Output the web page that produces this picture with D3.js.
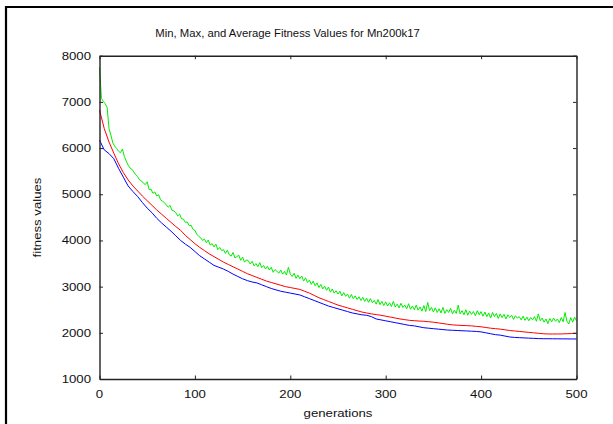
<!DOCTYPE html>
<html>
<head>
<meta charset="utf-8">
<script src="https://cdn.jsdelivr.net/npm/d3@7"></script>
<style>
  html, body { margin: 0; padding: 0; background: #fff; }
  svg { display: block; }
  text { font-family: "Liberation Sans", Arial, sans-serif; fill: #111; }
</style>
</head>
<body>
<div id="chart"></div>
<script>
// data
const titleText = "Min, Max, and Average Fitness Values for Mn200k17";
const xTicks = [0, 100, 200, 300, 400, 500];
const yTicks = [1000, 2000, 3000, 4000, 5000, 6000, 7000, 8000];

// average (red) and min (blue): one value every 5 generations, 0..500
const avgStep = 5;
const avgValues = [
  6824, 6420, 6130, 5890, 5660, 5470, 5310, 5180, 5070, 4960,
  4860, 4760, 4660, 4570, 4480, 4390, 4300, 4220, 4110, 4020,
  3930, 3850, 3780, 3710, 3650, 3590, 3530, 3480, 3430, 3380,
  3330, 3280, 3240, 3200, 3160, 3120, 3090, 3060, 3030, 3000,
  2980, 2960, 2940, 2900, 2860, 2810, 2760, 2720, 2680, 2640,
  2600, 2570, 2540, 2510, 2480, 2450, 2430, 2410, 2395, 2380,
  2360, 2340, 2320, 2300, 2285, 2270, 2262, 2255, 2250, 2240,
  2230, 2215, 2200, 2185, 2172, 2165, 2160, 2155, 2150, 2140,
  2130, 2115, 2100, 2090, 2080, 2065, 2050, 2040, 2030, 2020,
  2010, 2000, 1990, 1980, 1975, 1974, 1975, 1977, 1980, 1985,
  1990
];
const minValues = [
  6174, 5960, 5880, 5770, 5560, 5370, 5180, 5060, 4950, 4820,
  4700, 4600, 4480, 4380, 4290, 4200, 4100, 4000, 3920, 3850,
  3760, 3670, 3600, 3530, 3460, 3420, 3380, 3330, 3270, 3220,
  3170, 3130, 3100, 3080, 3040, 3000, 2960, 2930, 2900, 2880,
  2860, 2840, 2820, 2780, 2740, 2700, 2660, 2620, 2580, 2550,
  2520, 2490, 2460, 2430, 2410, 2390, 2380, 2350, 2300, 2280,
  2260, 2240, 2220, 2200, 2180, 2160, 2150, 2130, 2110, 2100,
  2090, 2080, 2070, 2060, 2055, 2050, 2045, 2040, 2035, 2030,
  2020, 2000, 1980, 1960, 1950, 1930, 1910, 1900, 1895, 1890,
  1885, 1880, 1875, 1872, 1872, 1871, 1870, 1869, 1868, 1867,
  1866
];
// max (green): one value every 2 generations, 0..500
const maxStep = 2;
const maxValues = [
  7750, 7080, 7010, 6960, 6880, 6420, 6280, 6110, 6040, 5990,
  5930, 5900, 5980, 5820, 5720, 5630, 5570, 5540, 5480, 5420,
  5380, 5310, 5290, 5240, 5210,
  5270, 5100, 5110, 5020, 5050, 4960, 4990, 4880, 4850, 4820,
  4770, 4720, 4760, 4650, 4640, 4600, 4530, 4570, 4470, 4460,
  4390, 4400, 4320, 4330, 4240,
  4220, 4130, 4090, 4060, 4000, 4030, 3950, 4010, 3900, 3930,
  3860, 3920, 3800, 3850, 3780, 3800, 3720, 3790, 3690, 3660,
  3740, 3620, 3650, 3680, 3570,
  3640, 3530, 3580, 3560, 3490, 3550, 3450, 3500, 3430, 3520,
  3410, 3460, 3380, 3440, 3360, 3420, 3310, 3370, 3330, 3290,
  3360, 3270, 3330, 3250, 3420,
  3270, 3220, 3290, 3180, 3250, 3170, 3230, 3120, 3190, 3090,
  3140, 3050, 3120, 3020, 3080, 2980, 3050, 2950, 3010, 2920,
  2990, 2880, 2950, 2860, 2910,
  2840, 2900, 2800, 2870, 2790, 2840, 2750, 2830, 2740, 2800,
  2720, 2780, 2700, 2770, 2680, 2750, 2660, 2740, 2650, 2700,
  2620, 2720, 2610, 2680, 2590,
  2670, 2580, 2650, 2570, 2680, 2560, 2620, 2540, 2640, 2550,
  2600, 2520, 2630, 2510, 2580, 2500, 2600, 2490, 2560, 2470,
  2590, 2460, 2660, 2480, 2550,
  2450, 2540, 2440, 2520, 2430, 2550, 2420, 2500, 2440, 2530,
  2410, 2490, 2420, 2600, 2410, 2480, 2390, 2500, 2380, 2470,
  2400, 2460, 2370, 2480, 2390,
  2460, 2360, 2450, 2350, 2430, 2320, 2440, 2350, 2420, 2310,
  2410, 2330, 2400, 2300, 2390, 2330, 2380, 2290, 2370, 2320,
  2350, 2280, 2360, 2270, 2340,
  2260, 2330, 2280, 2350, 2250, 2410, 2260, 2320, 2230, 2300,
  2200, 2310, 2240, 2320, 2250, 2300, 2220, 2330, 2240, 2440,
  2250, 2190, 2330, 2230, 2340, 2260
];

const W = 613, H = 424;
const margin = { left: 99.5, right: 36.5, top: 55.7, bottom: 45 };
const textScale = 1.2; // the reference tick text is a bit wider than Liberation Sans

const svg = d3.select("#chart").append("svg")
  .attr("width", W).attr("height", H)
  .attr("viewBox", `0 0 ${W} ${H}`);

// outer page frame (top and left edges)
svg.append("line").attr("x1", 5).attr("x2", W).attr("y1", 7).attr("y2", 7)
  .attr("stroke", "#000").attr("stroke-width", 2.2);
svg.append("line").attr("x1", 6).attr("x2", 6).attr("y1", 6).attr("y2", H)
  .attr("stroke", "#000").attr("stroke-width", 2.2);

const x = d3.scaleLinear().domain([0, 500]).range([margin.left, W - margin.right]);
const y = d3.scaleLinear().domain([1000, 8000]).range([H - margin.bottom, margin.top]);

function label(g, tx, ty, str, anchor, size, rotate, sx) {
  return g.append("text")
    .attr("transform", `translate(${tx},${ty})` + (rotate ? " rotate(-90)" : "") + ` scale(${sx || textScale},1)`)
    .attr("text-anchor", anchor)
    .style("font-size", size + "px")
    .text(str);
}

// series
const lineFor = (step) => d3.line().x((d, i) => x(i * step)).y(d => y(d));
const plot = svg.append("g");
plot.append("path").datum(maxValues).attr("d", lineFor(maxStep))
  .attr("fill", "none").attr("stroke", "#00ee00").attr("stroke-width", 1);
plot.append("path").datum(avgValues).attr("d", lineFor(avgStep))
  .attr("fill", "none").attr("stroke", "#ff0000").attr("stroke-width", 1);
plot.append("path").datum(minValues).attr("d", lineFor(avgStep))
  .attr("fill", "none").attr("stroke", "#0000ff").attr("stroke-width", 1);

// axes with inward ticks on all four sides
const tick = 3.5;
const axisColor = "#222";
const axBottom = d3.axisBottom(x).tickValues(xTicks).tickSizeInner(-tick).tickSizeOuter(0).tickFormat("");
const axTop = d3.axisTop(x).tickValues(xTicks).tickSizeInner(-tick).tickSizeOuter(0).tickFormat("");
const axLeft = d3.axisLeft(y).tickValues(yTicks).tickSizeInner(-tick).tickSizeOuter(0).tickFormat("");
const axRight = d3.axisRight(y).tickValues(yTicks).tickSizeInner(-tick).tickSizeOuter(0).tickFormat("");
[[axBottom, `translate(0,${y(1000)})`], [axTop, `translate(0,${y(8000)})`],
 [axLeft, `translate(${x(0)},0)`], [axRight, `translate(${x(500)},0)`]].forEach(([ax, tr]) => {
  const g = svg.append("g").attr("transform", tr).call(ax);
  g.selectAll("path").attr("stroke", axisColor).attr("stroke-width", 1.4);
  g.selectAll("line").attr("stroke", axisColor).attr("stroke-width", 1);
});

// tick labels
const labels = svg.append("g");
xTicks.forEach(v => label(labels, x(v), 397.5, v, "middle", 11));
yTicks.forEach(v => label(labels, 91, y(v) + 4, v, "end", 11));

// titles
label(labels, 287.5, 37, titleText, "middle", 11, false, 1.03);
label(labels, 338, 416.5, "generations", "middle", 11);
label(labels, 40.5, 217.5, "fitness values", "middle", 11, true);
</script>
</body>
</html>
